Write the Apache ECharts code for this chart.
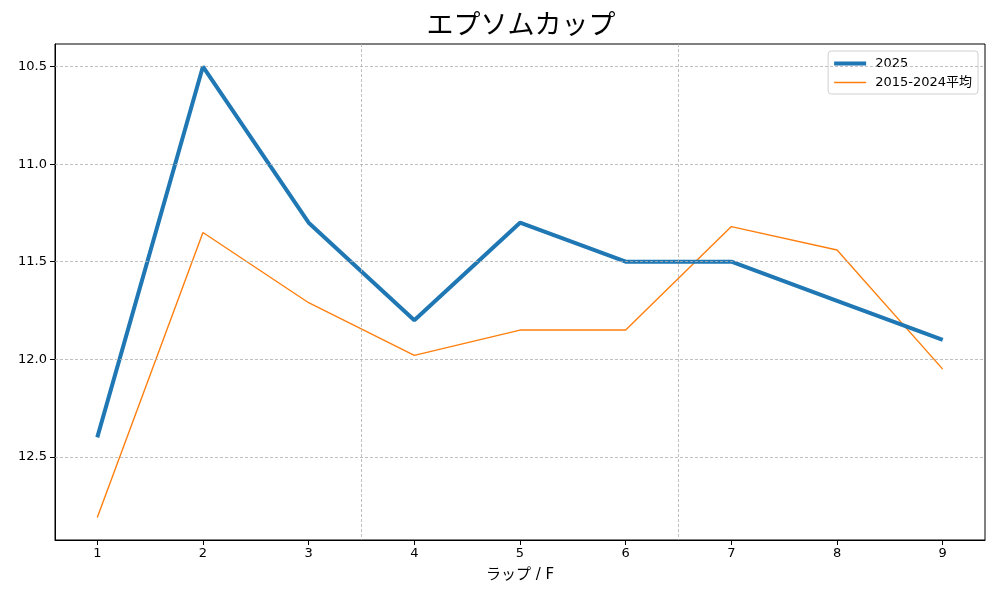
<!DOCTYPE html>
<html><head><meta charset="utf-8">
<script src="https://cdn.jsdelivr.net/npm/echarts@6/dist/echarts.min.js"></script>
<style>html,body{margin:0;padding:0;background:#fff}#c{width:1000px;height:600px}</style>
</head><body><div id="c"></div>
<script>
const laps = [1, 2, 3, 4, 5, 6, 7, 8, 9];
const lap2025 = [12.4, 10.5, 11.3, 11.8, 11.3, 11.5, 11.5, 11.7, 11.9];
const lapAvg = [12.81, 11.35, 11.71, 11.98, 11.85, 11.85, 11.32, 11.44, 12.05];
const yTicks = [10.5, 11.0, 11.5, 12.0, 12.5];
const xTicks = [1, 2, 3, 4, 5, 6, 7, 8, 9];
const vLines = [3.5, 6.5];
const seriesNames = ['2025', '2015-2024平均'];
const FONT = '"DejaVu Sans", "Noto Sans CJK JP", sans-serif';
const CJK = '"Noto Sans CJK JP", sans-serif';

const gridStyle = {color: '#b0b0b0', width: 0.8, type: [3, 2]};
const hiddenSymbol = {opacity: 0, color: 'rgba(0,0,0,0)', borderWidth: 0, borderColor: 'rgba(0,0,0,0)'};
const chart = echarts.init(document.getElementById('c'));
chart.setOption({
  animation: false,
  textStyle: {fontFamily: FONT},
  title: {
    text: 'エプソムカップ', left: 516, top: 5, textAlign: 'center',
    textStyle: {fontSize: 27, fontWeight: 'normal', color: '#000', fontFamily: CJK}
  },
  legend: {
    right: 22, top: 51, orient: 'vertical', itemGap: 6,
    itemWidth: 32, itemHeight: 12,
    padding: [6, 6, 5, 4],
    borderColor: '#d0d0d0', borderWidth: 1, borderRadius: 3,
    textStyle: {fontSize: 13, color: '#000', fontFamily: FONT, padding: [0, 0, 0, 4]},
    data: [
      {name: seriesNames[0], itemStyle: hiddenSymbol, lineStyle: {width: 4}},
      {name: seriesNames[1], itemStyle: hiddenSymbol, lineStyle: {width: 1.4}}
    ]
  },
  grid: {left: 55, right: 15, top: 44, bottom: 60, show: true, borderColor: '#000', borderWidth: 1, containLabel: false},
  xAxis: {
    type: 'value', min: 0.6, max: 9.4,
    name: 'ラップ / F', nameLocation: 'middle', nameGap: 28,
    nameTextStyle: {fontSize: 15, color: '#000', fontFamily: FONT},
    axisLine: {show: true, lineStyle: {color: '#000'}},
    axisTick: {show: true, customValues: xTicks, length: 5, lineStyle: {color: '#000'}},
    axisLabel: {customValues: xTicks, fontSize: 13, color: '#000', margin: 7, fontFamily: FONT},
    splitLine: {show: false}
  },
  yAxis: {
    type: 'value', inverse: true, min: 10.3845, max: 12.9255,
    axisLine: {show: true, lineStyle: {color: '#000'}},
    axisTick: {show: true, customValues: yTicks, length: 5, lineStyle: {color: '#000'}},
    axisLabel: {customValues: yTicks, fontSize: 13, color: '#000', margin: 8, fontFamily: FONT,
      formatter: v => Number(v).toFixed(1)},
    splitLine: {show: false}
  },
  series: [
    {
      name: seriesNames[0], type: 'line', symbol: 'none', z: 3,
      data: laps.map((x, i) => [x, lap2025[i]]),
      lineStyle: {color: '#1f77b4', width: 4},
      itemStyle: {color: '#1f77b4'},
      markLine: {
        silent: true, symbol: 'none', label: {show: false},
        lineStyle: gridStyle,
        data: vLines.map(v => ({xAxis: v})).concat(yTicks.map(v => ({yAxis: v})))
      }
    },
    {
      name: seriesNames[1], type: 'line', symbol: 'none', z: 2,
      data: laps.map((x, i) => [x, lapAvg[i]]),
      lineStyle: {color: '#ff7f0e', width: 1.4},
      itemStyle: {color: '#ff7f0e'}
    }
  ]
});
</script></body></html>
